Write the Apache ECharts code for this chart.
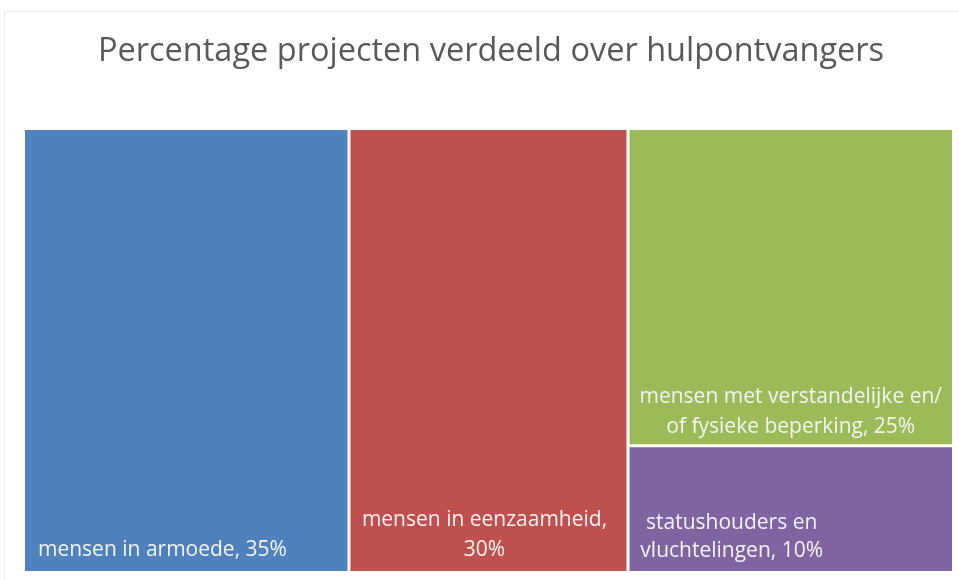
<!DOCTYPE html>
<html>
<head>
<meta charset="utf-8">
<script src="https://cdn.jsdelivr.net/npm/echarts@6/dist/echarts.min.js"></script>
<style>
  html, body { margin: 0; padding: 0; background: #ffffff; }
  #frame { position: absolute; left: 4px; top: 11px; width: 960px; height: 580px; border: 1px solid #ececec; box-sizing: border-box; }
  #chart { position: absolute; left: 0; top: 0; width: 959px; height: 580px; }
</style>
</head>
<body>
<div id="frame"></div>
<div id="chart"></div>
<script>
const chartTitle = 'Percentage projecten verdeeld over hulpontvangers';
const categories = [
  'mensen in armoede',
  'mensen in eenzaamheid',
  'mensen met verstandelijke en/\nof fysieke beperking',
  'statushouders en\nvluchtelingen'
];
const separators = [', ', ',\n', ', ', ', '];
const values = [35, 30, 25, 10];

const colors = ['#4f81bd', '#c0504d', '#9bbb59', '#8064a2'];
const labelStyles = [
  { position: [8, '100%'], align: 'left', offset: [0, -1], lineHeight: 30 },
  { position: ['50%', '100%'], align: 'center', offset: [-4, -1], lineHeight: 30 },
  { position: ['50%', '100%'], align: 'center', offset: [0, 3], lineHeight: 30 },
  { position: ['32%', '100%'], align: 'center', offset: [-1, -1], lineHeight: 28 }
];

const seriesData = categories.map((name, i) => ({
  name: name,
  value: values[i],
  itemStyle: { color: colors[i] },
  label: Object.assign({ verticalAlign: 'bottom' }, labelStyles[i])
}));

const chart = echarts.init(document.getElementById('chart'), null, { renderer: 'canvas' });
chart.setOption({
  backgroundColor: 'transparent',
  animation: false,
  title: {
    text: chartTitle,
    left: 486,
    textAlign: 'center',
    top: 30,
    textStyle: { fontFamily: 'Open Sans', fontSize: 32.5, fontWeight: 'normal', color: '#595959' }
  },
  series: [{
    type: 'treemap',
    left: 25,
    top: 130,
    right: 7,
    bottom: 9,
    sort: false,
    roam: false,
    nodeClick: false,
    breadcrumb: { show: false },
    squareRatio: 1,
    itemStyle: { borderWidth: 0, gapWidth: 3, borderColor: '#ffffff' },
    levels: [{ itemStyle: { borderWidth: 0, gapWidth: 3, borderColor: '#ffffff' } }],
    label: {
      show: true,
      fontFamily: 'Open Sans',
      fontSize: 21,
      lineHeight: 30,
      color: '#f4f4f4',
      formatter: p => {
        const i = categories.indexOf(p.name);
        return p.name + separators[i] + p.value + '%';
      }
    },
    upperLabel: { show: false },
    data: seriesData
  }]
});
</script>
</body>
</html>
